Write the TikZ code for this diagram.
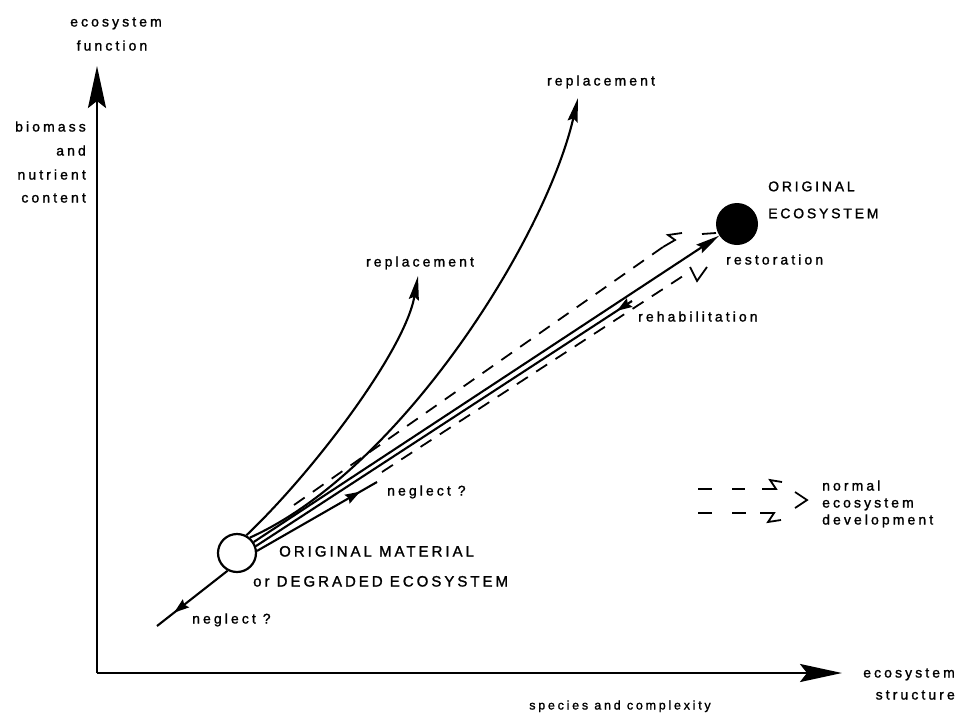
\documentclass[tikz,border=0pt]{standalone}
\usepackage{fontspec}
\setmainfont{Liberation Sans}
\newfontfamily\labfont[LetterSpace=22,FakeBold=1.4]{Liberation Sans}
\newfontfamily\capfont[LetterSpace=20,FakeBold=1.4]{Liberation Sans}
\usetikzlibrary{arrows.meta,decorations.markings}
\begin{document}
\begin{tikzpicture}[x=1pt,y=-1pt,
  ln/.style={line width=2.1pt},
  dsh/.style={line width=1.8pt, dash pattern=on 13pt off 10pt},
  tip/.style={-{Stealth[length=24pt,width=10pt,inset=3pt]}},
  axtip/.style={-{Stealth[length=42pt,width=18pt,inset=7pt]}},
  lbl/.style={inner sep=0pt, text height=10pt, text depth=3pt, font=\fontsize{14}{16}\selectfont\labfont},
  lbls/.style={inner sep=0pt, text height=10pt, text depth=3pt, font=\fontsize{12.5}{15}\selectfont\labfont},
  capl/.style={inner sep=0pt, text height=10.5pt, text depth=0pt, font=\fontsize{14}{16}\selectfont\capfont},
  capb/.style={inner sep=0pt, text height=11pt, text depth=0pt, font=\fontsize{15}{17}\selectfont\capfont},
  midfwd/.style={postaction={decorate},decoration={markings,mark=at position #1 with {\arrow{Stealth[length=15pt,width=10pt,inset=2pt]}}}},
  midrev/.style={postaction={decorate},decoration={markings,mark=at position #1 with {\arrowreversed{Stealth[length=15pt,width=10pt,inset=2pt]}}}},
]
\path[use as bounding box] (0,0) rectangle (958,715);

% axes
\coordinate (orig) at (97,673);
\coordinate (ytop) at (97,66);
\coordinate (xend) at (842,673);
\draw[line width=2.6pt, axtip] (orig) -- (ytop);
\draw[line width=2.6pt, axtip] (orig) -- (xend);

% circles
\node[circle, draw, line width=2.2pt, fill=white, minimum size=38pt, inner sep=0pt] (O) at (237,553) {};
\node[circle, fill=black, minimum size=42pt, inner sep=0pt] (F) at (737,224) {};

% end coordinates
\coordinate (r1) at (418,276);
\coordinate (r2) at (578,98);
\coordinate (u1) at (294,505);
\coordinate (u2) at (663,247);
\coordinate (l1) at (382,472);
\coordinate (l2) at (683,276);
\coordinate (hab) at (632,301);
\coordinate (neg1) at (377,482);
\coordinate (neg2) at (157,626);

% replacement curves
\draw[ln, tip] (O.62) .. controls (315,470) and (405,350) .. (r1);
\draw[ln, tip] (O.50) .. controls (400,470) and (545,240) .. (r2);

% restoration
\draw[ln, tip] (O) -- (F);
% rehabilitation
\draw[ln, midrev=0.96] (O.20) -- (hab);
% neglect (mid)
\draw[ln, midfwd=0.86] (O.6) -- (neg1);
% neglect (low)
\draw[ln, midfwd=0.76] (O.-118) -- (neg2);

% normal development dashed lines
\draw[dsh] (u1) -- (u2);
\draw[line width=1.8pt] (u2) -- (675,240) -- (668,235) -- (682,233);
\draw[line width=1.8pt] (702,234) -- (716,233);
\draw[dsh] (l1) -- (l2);
\draw[line width=1.8pt] (690,267) -- (697,281) -- (707,267);

% legend
\draw[line width=1.8pt] (698,489) -- (712,489) (732,489) -- (745,489);
\draw[line width=1.8pt] (762,489) -- (776,489) -- (770,480) -- (782,482);
\draw[line width=1.8pt] (698,513) -- (712,513) (732,513) -- (746,513);
\draw[line width=1.8pt] (760,513) -- (774,513) -- (768,522) -- (781,520);
\draw[line width=1.8pt] (795,492) -- (807,500) -- (795,508);

% labels
\node[lbl] (yl1) at (116,23) {ecosystem};
\node[lbl] (yl2) at (112,47) {function};
\node[lbl, anchor=east] (b1) at (86,128) {biomass};
\node[lbl, anchor=east] (b2) at (86,152) {and};
\node[lbl, anchor=east] (b3) at (86,176) {nutrient};
\node[lbl, anchor=east] (b4) at (86,199) {content};
\node[lbl] (rep2) at (601,82) {replacement};
\node[lbl] (rep1) at (420,263) {replacement};
\node[capl, anchor=west] (oe1) at (768,186) {ORIGINAL};
\node[capl, anchor=west] (oe2) at (768,213) {ECOSYSTEM};
\node[lbl, anchor=west] (rest) at (726,261) {restoration};
\node[lbl, anchor=west] (rehab) at (638,318) {rehabilitation};
\node[lbl, anchor=west] (negm) at (387,492) {neglect ?};
\node[capb, anchor=west] (om1) at (279,551) {ORIGINAL MATERIAL};
\node[capb, anchor=west] (om2) at (253,581) {or DEGRADED ECOSYSTEM};
\node[lbl, anchor=west] (negl) at (192,620) {neglect ?};
\node[lbl, anchor=west] (lg1) at (822,487) {normal};
\node[lbl, anchor=west] (lg2) at (822,504) {ecosystem};
\node[lbl, anchor=west] (lg3) at (822,521) {development};
\node[lbl, anchor=east] (xl1) at (955,674) {ecosystem};
\node[lbl, anchor=east] (xl2) at (955,696) {structure};
\node[lbls] (xl3) at (620,706) {species and complexity};
\end{tikzpicture}
\end{document}
